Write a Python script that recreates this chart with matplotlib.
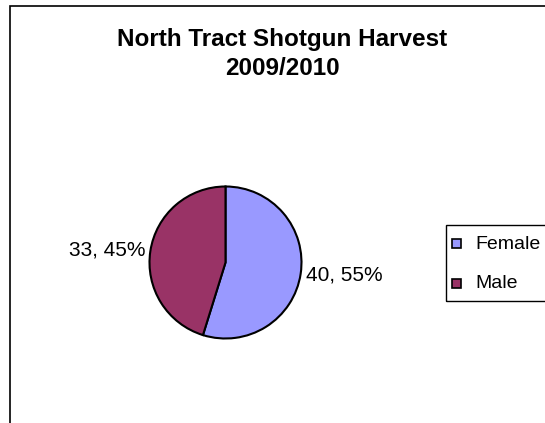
import matplotlib.pyplot as plt
from matplotlib.patches import Rectangle

plt.rcParams['font.family'] = ['Liberation Sans', 'DejaVu Sans']

labels = ['Female', 'Male']
counts = [40, 33]
percents = [55, 45]
colors = ['#9999FF', '#993366']

W, H = 545, 423
fig = plt.figure(figsize=(W / 100, H / 100), dpi=100)

# chart frame (right and bottom edges run off the image)
fig.patches.append(Rectangle((9.5 / W, -0.1), 1.0, 1 - 6.5 / H + 0.1,
                             transform=fig.transFigure, fill=False,
                             edgecolor='black', linewidth=1.2))

fig.text(282 / W, 1 - 46 / H, 'North Tract Shotgun Harvest',
         ha='center', va='baseline', fontsize=17.5, fontweight='bold')
fig.text(282 / W, 1 - 75 / H, '2009/2010',
         ha='center', va='baseline', fontsize=17.5, fontweight='bold')

cx, cy, r = 225.5, 262.5, 76
ax = fig.add_axes([(cx - r) / W, (H - cy - r) / H, 2 * r / W, 2 * r / H])
txt = ['%d, %d%%' % (c, p) for c, p in zip(counts, percents)]
wedges, texts = ax.pie(counts, labels=txt, colors=colors, startangle=90,
                       counterclock=False, labeldistance=1.07,
                       wedgeprops=dict(edgecolor='black', linewidth=1.5),
                       textprops=dict(fontsize=15))
ax.set_xlim(-1, 1)
ax.set_ylim(-1, 1)
ax.set_aspect('equal')
for t in texts:
    t.set_clip_on(False)

# legend box, runs off the right edge like the original
fig.patches.append(Rectangle((445.5 / W, 1 - 301 / H), 120 / W, 76 / H,
                             transform=fig.transFigure, fill=False,
                             edgecolor='black', linewidth=1.0))
for i, (lab, col) in enumerate(zip(labels, colors)):
    y = 244 + 39 * i
    fig.patches.append(Rectangle((452 / W, 1 - (y + 4.5) / H), 9 / W, 9 / H,
                                 transform=fig.transFigure, facecolor=col,
                                 edgecolor='black', linewidth=1.2))
    fig.text(475 / W, 1 - y / H, lab, ha='left', va='center', fontsize=14)

fig.savefig('out.png', dpi=100, facecolor='white')
